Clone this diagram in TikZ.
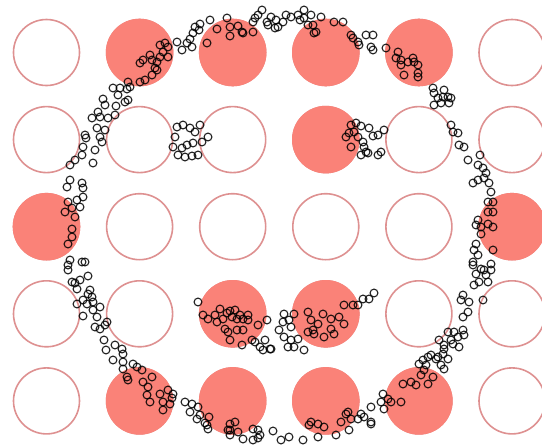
\documentclass[tikz,border=0pt]{standalone}
\definecolor{wellred}{rgb}{0.98,0.51,0.47}
\definecolor{wellrim}{rgb}{0.87,0.57,0.57}
\usepackage{tikz}
\begin{document}
\begin{tikzpicture}[
    x=1pt,y=-1pt,
    well/.style={draw=wellrim,line width=1.6pt,fill=white},
    hotwell/.style={fill=wellred},
    bead/.style={draw=black,draw opacity=0.85,line width=1.15pt}
  ]
    \useasboundingbox (0,0) rectangle (542,445);
    % grid of wells
    \foreach \c in {0,...,5}
      \foreach \r in {0,...,4}
        \draw[well] (46.5+93.1*\c,52.5+87.1*\r) circle (33pt);
    % occupied wells
    \foreach \c/\r in {1/0,2/0,3/0,4/0,3/1,0/2,5/2,2/3,3/3,1/4,2/4,3/4,4/4}
      \fill[hotwell] (46.5+93.1*\c,52.5+87.1*\r) circle (33.8pt);
    % tracked particles
    \foreach \x/\y in {262/10,258/15,267/22,253/22,255/18,
      227/18,230/27,238/26,242/32,253/32,243/33,230/36,217/29,207/43,
      210/20,200/24,195/27,199/30,193/33,190/39,187/43,182/50,177/42,192/47,
      160/45,165/43,168/47,163/52,168/57,160/57,157/62,152/60,150/55,143/60,140/63,155/68,157/70,152/75,145/80,140/82,128/82,130/87,
      113/88,120/88,127/89,118/95,128/100,125/102,103/99,105/105,116/106,115/115,
      98/112,92/118,100/117,108/118,97/128,105/130,100/137,102/142,85/135,86/138,83/147,95/150,82/155,75/160,70/165,93/163,70/180,67/187,82/183,83/188,
      83/197,77/200,68/202,72/208,80/207,65/212,75/217,
      177/127,183/125,190/128,200/125,195/132,175/137,182/148,173/147,187/145,193/143,202/142,208/137,178/155,185/157,192/156,198/155,
      271/17,276/20,278/27,283/22,286/15,291/17,298/15,304/10,304/18,311/15,321/17,308/25,313/25,314/33,316/32,268/25,275/28,300/20,
      334/22,343/22,
      351/35,353/38,358/42,359/45,366/35,373/35,371/47,373/50,386/48,
      398/52,396/58,401/60,401/65,408/62,413/58,414/62,418/65,418/73,418/77,404/75,
      433/88,444/90,434/93,438/98,443/97,448/97,451/98,449/103,434/105,441/103,
      351/125,356/123,361/126,369/128,378/135,384/130,346/137,349/133,354/132,358/137,351/147,363/142,364/147,366/152,361/155,368/153,373/136,378/155,381/152,
      451/125,453/132,458/133,459/145,464/147,468/160,480/155,478/165,483/168,486/173,484/178,478/180,473/183,489/183,491/192,488/202,493/202,488/212,493/212,478/220,
      72/229,72/237,68/244,
      70/260,68/265,68/270,82/262,85/262,88/276,72/282,75/283,80/280,77/289,90/290,88/294,92/297,83/300,77/304,87/304,93/302,100/307,93/310,97/317,83/316,95/327,100/329,107/322,105/325,
      104/340,106/350,115/345,122/349,123/354,113/360,123/362,123/369,133/364,137/367,142/370,
      127/377,128/380,143/382,152/377,148/387,147/395,150/402,160/394,168/390,173/394,163/402,170/404,163/410,172/398,
      185/402,192/404,190/412,198/407,200/415,197/419,207/425,208/429,209/417,205/423,
      230/424,235/422,230/430,238/432,230/435,243/439,228/430,
      253/429,258/430,260/435,253/440,258/438,
      198/302,203/315,208/319,215/315,220/309,217/322,223/319,227/313,230/311,235/310,232/317,237/319,240/315,243/319,248/315,248/320,225/329,228/332,237/330,243/330,230/340,242/345,252/340,258/325,267/320,255/342,260/347,263/350,265/340,270/349,
      476/225,481/227,488/224,493/227,481/234,493/250,
      476/244,474/250,478/255,473/262,473/265,481/269,476/274,484/270,491/264,491/270,486/275,479/282,488/282,474/285,483/300,
      463/295,461/300,469/302,468/312,463/317,
      448/332,454/332,463/330,464/335,458/337,451/340,439/340,444/345,453/344,459/347,444/349,443/354,438/357,431/355,428/357,423/360,419/364,426/365,436/359,448/359,441/365,444/369,424/370,
      421/375,433/377,428/384,411/382,416/385,403/384,401/402,391/402,388/399,
      383/394,381/402,384/409,371/407,361/414,364/417,371/422,371/424,349/430,358/419,351/419,346/414,341/422,
      311/422,318/424,324/427,309/425,348/412,
      336/435,318/437,303/440,289/437,281/440,273/431,
      308/312,311/320,318/324,323/314,331/319,339/317,344/324,331/329,334/334,324/337,314/334,308/332,313/330,344/305,353/305,358/305,363/299,369/299,374/293,294/314,
      284/314,283/322,289/320,291/327,279/330,284/337,291/340,298/339,294/347,288/347,304/350,271/349}
      \draw[bead] (\x,\y) circle (3.9pt);
  \end{tikzpicture}
\end{document}
